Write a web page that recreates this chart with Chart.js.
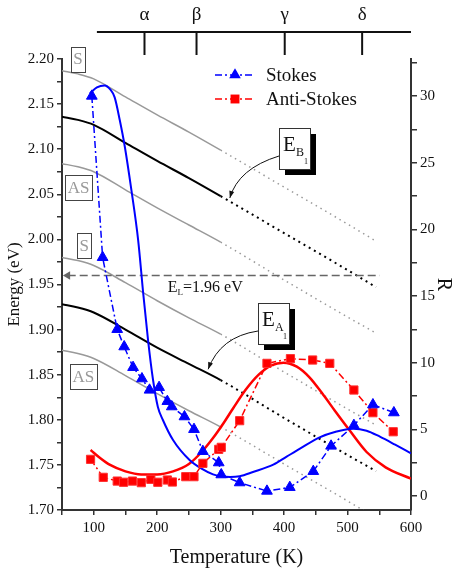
<!DOCTYPE html>
<html>
<head>
<meta charset="utf-8">
<script src="https://cdn.jsdelivr.net/npm/chart.js@4.4.0/dist/chart.umd.min.js"></script>
<style>
  body { margin: 0; background: #fff; }
  #wrap { width: 455px; height: 574px; }
</style>
</head>
<body>
<div id="wrap"><canvas id="ramanChart" width="455" height="574"></canvas></div>
<script>
// measured ratios R vs temperature (K)
var stokesT = [97, 114, 137, 148, 162, 176, 188, 203, 216, 223, 243, 258, 272, 297, 301, 330, 373, 409, 446, 474, 510, 540, 573];
var stokesR = [30.0, 17.9, 12.5, 11.2, 9.65, 8.8, 7.95, 8.15, 7.1, 6.7, 5.95, 5.0, 3.35, 2.5, 1.6, 1.0, 0.37, 0.65, 1.85, 3.75, 5.3, 6.85, 6.25];
var antiT = [95, 115, 137, 147, 161, 175, 190, 201, 216, 224, 245, 258, 272, 297, 301, 330, 373, 410, 445, 472, 510, 540, 572];
var antiR = [2.75, 1.4, 1.12, 1.03, 1.12, 1.0, 1.25, 1.03, 1.2, 1.05, 1.45, 1.45, 2.45, 3.5, 3.65, 5.65, 9.95, 10.3, 10.2, 9.95, 7.95, 6.25, 4.82];

// model curves
var stokesFitT = [94, 105, 117, 126, 133, 141, 149, 159.5, 170, 178, 185.6, 193.5, 201, 209, 225, 251, 270, 288, 300, 315, 330, 351, 383, 404, 425, 456, 480, 509, 530, 551, 575, 600];
var stokesFitR = [30.2, 30.65, 30.8, 30.5, 29.9, 28.2, 26.2, 22.9, 19.2, 15.2, 11.7, 8.7, 6.7, 5.7, 4.2, 2.7, 2.05, 1.62, 1.48, 1.42, 1.48, 1.8, 2.35, 2.95, 3.55, 4.4, 4.8, 5.05, 4.9, 4.45, 3.85, 3.2];
var antiFitT = [95, 110, 125, 150, 175, 200, 225, 250, 270, 288, 305, 320, 340, 360, 380, 399, 420, 440, 460, 480, 502, 530, 560, 600];
var antiFitR = [3.45, 2.85, 2.35, 1.85, 1.62, 1.62, 1.85, 2.4, 3.3, 4.35, 5.5, 6.6, 8.0, 9.1, 9.8, 10.0, 9.7, 8.9, 7.7, 6.4, 5.0, 3.3, 2.15, 1.3];

// transition energies (eV), solid up to 300 K, dotted after
var levelT = [50, 75, 100, 150, 200, 250, 300, 400, 500, 545];
var levelS1 = [2.187, 2.1835, 2.178, 2.158, 2.138, 2.119, 2.099, 2.058, 2.017, 1.998];
var levelB1 = [2.136, 2.1325, 2.127, 2.107, 2.087, 2.068, 2.048, 2.007, 1.966, 1.947];
var levelAS1 = [2.084, 2.0805, 2.075, 2.055, 2.035, 2.016, 1.997, 1.955, 1.914, 1.896];
var levelS2 = [1.980, 1.9765, 1.971, 1.952, 1.932, 1.913, 1.895, 1.853, 1.812, 1.794];
var levelA1 = [1.928, 1.9245, 1.919, 1.900, 1.880, 1.862, 1.844, 1.802, 1.761, 1.743];
var levelAS2 = [1.877, 1.8735, 1.868, 1.849, 1.829, 1.810, 1.792, 1.751, 1.710, 1.691];

// laser line
var laserT = [59, 551];
var laserE = [1.96, 1.96];

// phase axis on top
var phaseNames = ['α', 'β', 'γ', 'δ'];
var phaseT = [180, 262, 401, 523];
var phaseAxisStart = 105;

// S / AS tags
var tagText = ['S', 'AS', 'S', 'AS'];
var tagT = [75, 76, 85, 83.5];
var tagE = [2.200, 2.057, 1.993, 1.8475];

// E boxes with arrows
var boxSub = ['B', 'A'];
var boxT = [392.3, 358.2];
var boxE = [2.1232, 1.9292];
var arrowCtrlT = [327.8, 299.4];
var arrowCtrlE = [2.0785, 1.8922];
var arrowTipT = [314.5, 280.3];
var arrowTipE = [2.0459, 1.856];

var serif = "'Liberation Serif', 'Times New Roman', serif";
Chart.defaults.font.family = serif;
Chart.defaults.color = '#111';

function pairs(xs, ys) {
    return xs.map(function(x, i) { return {x: x, y: ys[i]}; });
}
function onStep(v, step) {
    return Math.abs(v / step - Math.round(v / step)) < 1e-6;
}

function level(vals, color, width) {
    var dots = color == '#000' ? [2, 4] : [1.5, 4];
    return {
        data: pairs(levelT, vals),
        yAxisID: 'y',
        borderColor: color,
        borderWidth: width,
        pointRadius: 0,
        cubicInterpolationMode: 'monotone',
        order: 3,
        segment: {
            borderDash: function(c) { return c.p0.parsed.x >= 300 ? dots : undefined; }
        }
    };
}

var decor = {
    id: 'decor',
    afterDraw: function(chart) {
        var ctx = chart.ctx, xs = chart.scales.x, ys = chart.scales.y, area = chart.chartArea;
        ctx.save();

        // top phase axis
        var yLine = area.top - 27;
        ctx.strokeStyle = '#111';
        ctx.lineWidth = 2;
        ctx.beginPath();
        ctx.moveTo(xs.getPixelForValue(phaseAxisStart), yLine);
        ctx.lineTo(area.right, yLine);
        ctx.stroke();
        ctx.fillStyle = '#111';
        ctx.font = '19px ' + serif;
        ctx.textAlign = 'center';
        ctx.textBaseline = 'alphabetic';
        phaseT.forEach(function(t, i) {
            var px = xs.getPixelForValue(t);
            ctx.beginPath();
            ctx.moveTo(px, yLine);
            ctx.lineTo(px, yLine + 23);
            ctx.stroke();
            ctx.fillText(phaseNames[i], px, yLine - 12);
        });

        // S / AS tags
        ctx.font = '17px ' + serif;
        ctx.textBaseline = 'middle';
        tagText.forEach(function(txt, i) {
            var cx = xs.getPixelForValue(tagT[i]), cy = ys.getPixelForValue(tagE[i]);
            var w = ctx.measureText(txt).width + 5, h = 25;
            ctx.fillStyle = '#fff';
            ctx.fillRect(cx - w / 2, cy - h / 2, w, h);
            ctx.strokeStyle = '#444';
            ctx.lineWidth = 1;
            ctx.strokeRect(Math.round(cx - w / 2) + 0.5, Math.round(cy - h / 2) + 0.5, Math.round(w), h);
            ctx.fillStyle = '#999';
            ctx.fillText(txt, cx, cy + 1);
        });

        // laser label
        var lx = xs.getPixelForValue(216.7), ly = ys.getPixelForValue(1.9417);
        ctx.fillStyle = '#111';
        ctx.textAlign = 'left';
        ctx.textBaseline = 'alphabetic';
        ctx.font = '16px ' + serif;
        ctx.fillText('E', lx, ly);
        var wE = ctx.measureText('E').width;
        ctx.font = '9px ' + serif;
        ctx.fillText('L', lx + wE, ly + 3);
        var wL = ctx.measureText('L').width;
        ctx.font = '16px ' + serif;
        ctx.fillText('=1.96 eV', lx + wE + wL, ly);

        // E boxes with curved arrows
        boxSub.forEach(function(sub, i) {
            var bx = Math.round(xs.getPixelForValue(boxT[i])), by = Math.round(ys.getPixelForValue(boxE[i]));
            var w = 31, h = 41;
            var sx = bx, sy = by + 28;
            var cx = xs.getPixelForValue(arrowCtrlT[i]), cy = ys.getPixelForValue(arrowCtrlE[i]);
            var tx = xs.getPixelForValue(arrowTipT[i]), ty = ys.getPixelForValue(arrowTipE[i]);
            ctx.strokeStyle = '#111';
            ctx.fillStyle = '#111';
            ctx.lineWidth = 1;
            ctx.beginPath();
            ctx.moveTo(sx, sy);
            ctx.quadraticCurveTo(cx, cy, tx, ty);
            ctx.stroke();
            var ang = Math.atan2(ty - cy, tx - cx);
            ctx.beginPath();
            ctx.moveTo(tx, ty);
            ctx.lineTo(tx - 7 * Math.cos(ang) + 2.5 * Math.sin(ang), ty - 7 * Math.sin(ang) - 2.5 * Math.cos(ang));
            ctx.lineTo(tx - 7 * Math.cos(ang) - 2.5 * Math.sin(ang), ty - 7 * Math.sin(ang) + 2.5 * Math.cos(ang));
            ctx.closePath();
            ctx.fill();

            ctx.fillStyle = '#000';
            ctx.fillRect(bx + 6, by + 6, w, h);
            ctx.fillStyle = '#fff';
            ctx.fillRect(bx, by, w, h);
            ctx.strokeStyle = '#333';
            ctx.strokeRect(bx + 0.5, by + 0.5, w, h);
            ctx.fillStyle = '#111';
            ctx.font = '21px ' + serif;
            ctx.fillText('E', bx + 4, by + 23);
            ctx.font = '12px ' + serif;
            ctx.fillText(sub, bx + 17, by + 28);
            ctx.font = '8px ' + serif;
            ctx.fillText('1', bx + 25, by + 36);
        });

        // legend
        [0, 1].forEach(function(di, r) {
            var ds = chart.data.datasets[di];
            var gy = area.top + 16 + r * 24;
            var gx0 = area.left + 153, gx1 = gx0 + 40;
            ctx.setLineDash(ds.borderDash);
            ctx.strokeStyle = ds.borderColor;
            ctx.lineWidth = ds.borderWidth;
            ctx.beginPath();
            ctx.moveTo(gx0, gy);
            ctx.lineTo(gx1, gy);
            ctx.stroke();
            ctx.setLineDash([]);
            ctx.fillStyle = ds.backgroundColor;
            Chart.helpers.drawPoint(ctx, {pointStyle: ds.pointStyle, radius: ds.pointRadius + 0.5, rotation: 0, borderWidth: 0}, (gx0 + gx1) / 2, gy);
            ctx.fillStyle = '#111';
            ctx.font = '19px ' + serif;
            ctx.textAlign = 'left';
            ctx.textBaseline = 'middle';
            ctx.fillText(ds.label, gx1 + 11, gy + 1);
        });

        ctx.restore();
    }
};

var axisColor = '#333';

new Chart(document.getElementById('ramanChart').getContext('2d'), {
    type: 'line',
    data: {
        datasets: [
            {
                label: 'Stokes',
                data: pairs(stokesT, stokesR),
                yAxisID: 'y2',
                borderColor: '#0000ff',
                backgroundColor: '#0000ff',
                borderWidth: 1.5,
                borderDash: [7, 3, 2, 3],
                pointStyle: 'triangle',
                pointRadius: 6.2,
                pointBorderWidth: 1,
                pointBorderColor: '#0000ff',
                order: 0
            },
            {
                label: 'Anti-Stokes',
                data: pairs(antiT, antiR),
                yAxisID: 'y2',
                borderColor: '#ff0000',
                backgroundColor: '#ff0000',
                borderWidth: 1.5,
                borderDash: [7, 3, 2, 3],
                pointStyle: 'rect',
                pointRadius: 5.8,
                pointBorderWidth: 1,
                pointBorderColor: '#ff3030',
                order: 0
            },
            {
                data: pairs(stokesFitT, stokesFitR),
                yAxisID: 'y2',
                borderColor: '#0000ff',
                borderWidth: 2,
                pointRadius: 0,
                cubicInterpolationMode: 'monotone',
                order: 1
            },
            {
                data: pairs(antiFitT, antiFitR),
                yAxisID: 'y2',
                borderColor: '#ff0000',
                borderWidth: 2.5,
                pointRadius: 0,
                cubicInterpolationMode: 'monotone',
                order: 1
            },
            {
                data: pairs(laserT, laserE),
                yAxisID: 'y',
                borderColor: '#666',
                backgroundColor: '#666',
                borderWidth: 1.5,
                borderDash: [8, 4],
                pointStyle: 'triangle',
                pointRotation: -90,
                pointRadius: [4.8, 0],
                pointBorderWidth: 0,
                order: 2
            },
            level(levelS1, '#999', 1.5),
            level(levelB1, '#000', 2),
            level(levelAS1, '#999', 1.5),
            level(levelS2, '#999', 1.5),
            level(levelA1, '#000', 2),
            level(levelAS2, '#999', 1.5)
        ]
    },
    options: {
        responsive: false,
        animation: false,
        events: [],
        layout: { padding: { top: 59, left: 0, right: 0, bottom: 0 } },
        plugins: {
            legend: { display: false },
            tooltip: { enabled: false }
        },
        scales: {
            x: {
                type: 'linear',
                position: 'bottom',
                min: 50,
                max: 600,
                afterFit: function(s) { s.height = 64; },
                border: { color: axisColor, width: 2 },
                grid: { drawOnChartArea: false, tickLength: 5, color: axisColor, lineWidth: 1.5 },
                ticks: {
                    stepSize: 50,
                    padding: 4,
                    maxRotation: 0,
                    autoSkip: false,
                    font: { size: 15 },
                    callback: function(v) { return onStep(v, 100) ? String(v) : ''; }
                },
                title: { display: true, text: 'Temperature (K)', font: { size: 20 }, padding: { top: 0, bottom: 4 } }
            },
            y: {
                type: 'linear',
                position: 'left',
                min: 1.70,
                max: 2.20,
                afterFit: function(s) { s.width = 62; },
                border: { color: axisColor, width: 2 },
                grid: { drawOnChartArea: false, tickLength: 5, color: axisColor, lineWidth: 1.5 },
                ticks: {
                    stepSize: 0.025,
                    padding: 3,
                    autoSkip: false,
                    font: { size: 15 },
                    callback: function(v) { return onStep(v, 0.05) ? v.toFixed(2) : ''; }
                },
                title: { display: true, text: 'Energy (eV)', font: { size: 17 }, padding: { top: 4, bottom: 0 } }
            },
            y2: {
                type: 'linear',
                position: 'right',
                min: -1.05,
                max: 32.78,
                afterFit: function(s) { s.width = 44; },
                afterBuildTicks: function(s) {
                    var list = [];
                    for (var k = Math.ceil(s.min / 2.5); k * 2.5 <= s.max; k++) list.push({value: k * 2.5});
                    s.ticks = list;
                },
                border: { color: axisColor, width: 2 },
                grid: { drawOnChartArea: false, tickLength: 6, color: axisColor, lineWidth: 1.5 },
                ticks: {
                    padding: 3,
                    autoSkip: false,
                    font: { size: 15 },
                    callback: function(v) { return onStep(v, 5) ? String(v) : ''; }
                },
                title: { display: true, text: 'R', font: { size: 20 }, padding: { top: 0, bottom: 4 } }
            }
        }
    },
    plugins: [decor]
});
</script>
</body>
</html>
